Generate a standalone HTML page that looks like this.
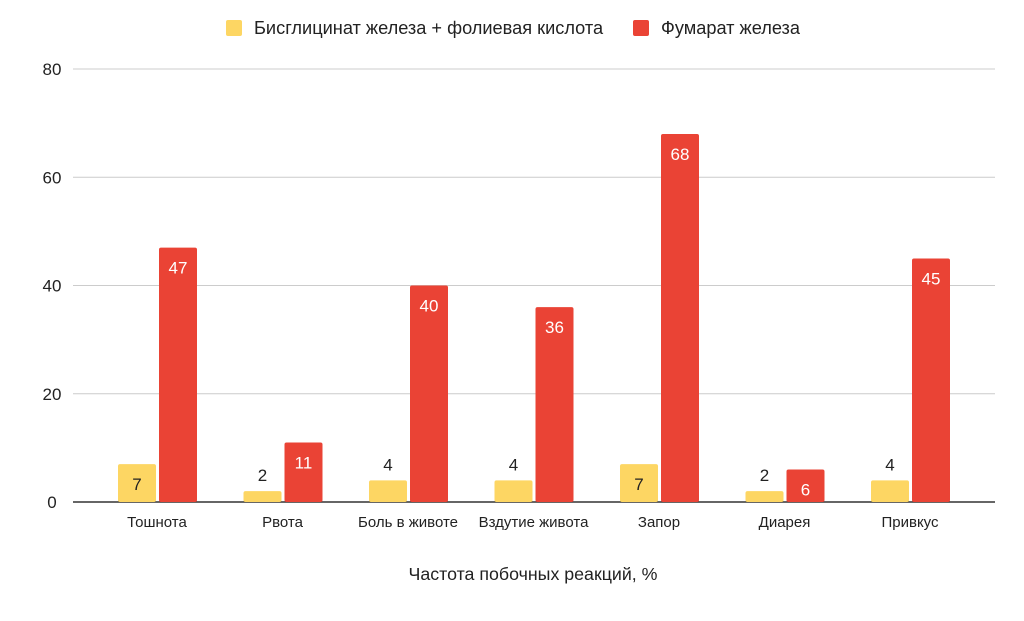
<!DOCTYPE html>
<html><head><meta charset="utf-8"><style>
body{margin:0;background:#fff;width:1024px;height:616px;overflow:hidden;font-family:"Liberation Sans",sans-serif}
</style></head><body>
<svg id="chart" width="1024" height="616" xmlns="http://www.w3.org/2000/svg" font-family="Liberation Sans, sans-serif">
<g id="legend">
<g><rect x="226" y="20" width="16" height="16" rx="2" fill="#fdd663"/><text x="254" y="34" font-size="18.2" fill="#222">Бисглицинат железа + фолиевая кислота</text></g>
<g><rect x="633" y="20" width="16" height="16" rx="2" fill="#ea4335"/><text x="661" y="34" font-size="18.2" fill="#222">Фумарат железа</text></g>
</g>
<g id="grid"></g><g id="bars"></g><g id="xlabels"></g>
<text x="533" y="580" text-anchor="middle" font-size="17.8" fill="#222">Частота побочных реакций, %</text>
</svg>
<script>
const categories=["Тошнота","Рвота","Боль в животе","Вздутие живота","Запор","Диарея","Привкус"];
const seriesA=[7,2,4,4,7,2,4];
const seriesB=[47,11,40,36,68,6,45];
const yTicks=[0,20,40,60,80];
const NS="http://www.w3.org/2000/svg";
const y0=502,yTop=69,yMax=80;
const y=v=>y0-(v/yMax)*(y0-yTop);
const x=i=>157+i*125.5;
function mk(tag,attrs,parent,txt){const e=document.createElementNS(NS,tag);for(const k in attrs)e.setAttribute(k,attrs[k]);if(txt!==undefined)e.textContent=txt;parent.appendChild(e);return e;}
const grid=document.getElementById('grid'),bars=document.getElementById('bars'),xl=document.getElementById('xlabels');
yTicks.forEach(t=>{
 const l=mk('line',{x1:73,x2:995,y1:y(t),y2:y(t),stroke:t===0?'#333':'#ccc','stroke-width':t===0?1.5:1},grid);
 
 
 const tx=mk('text',{x:52,y:y(t)+6,'text-anchor':'middle','font-size':17,fill:'#222'},grid,t);
 
 
});
categories.forEach((c,i)=>{
 const cx=x(i);
 [[seriesA[i],'#fdd663',cx-39,'a'],[seriesB[i],'#ea4335',cx+2,'b']].forEach(([v,col,bx,s])=>{
  const r=mk('rect',{x:bx,y:y(v),width:38,height:y0-y(v),fill:col,rx:2},bars);
  
  
  const inside=(y0-y(v))>26;
  const t=mk('text',{x:bx+19,y:inside?y(v)+26:y(v)-10,'text-anchor':'middle','font-size':17,fill:(inside&&s==='b')?'#fff':'#222'},bars,v);
  
  
 });
 const t=mk('text',{x:cx,y:527,'text-anchor':'middle','font-size':15,fill:'#222'},xl,c);
 
 
});
</script>
</body></html>
